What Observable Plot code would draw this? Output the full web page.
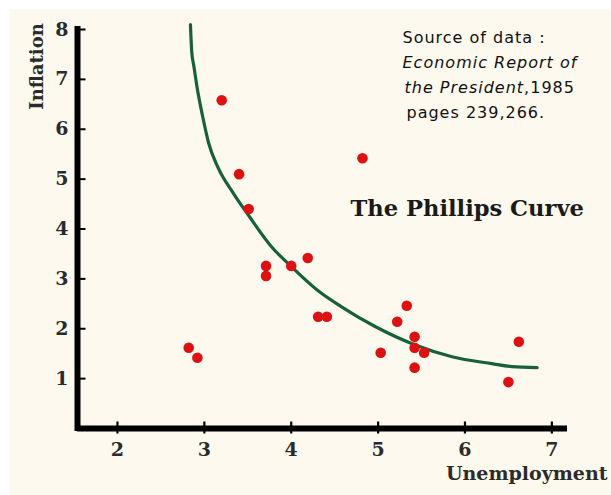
<!DOCTYPE html>
<html>
<head>
<meta charset="utf-8">
<script src="https://cdn.jsdelivr.net/npm/d3@7"></script>
<script src="https://cdn.jsdelivr.net/npm/@observablehq/plot@0.6"></script>
<style>
  html, body { margin: 0; padding: 0; background: #ffffff; }
  #chart svg { display: block; }
  #chart svg [font-family="DejaVu Sans"] { letter-spacing: 1px; }
</style>
</head>
<body>
<div id="chart"></div>
<script>
// Observations: unemployment rate (%) vs inflation rate (%)
const unemployment = [3.2, 3.4, 3.51, 4.82, 3.71, 3.71, 4.0, 4.19, 4.31, 4.41, 2.82, 2.92, 5.03, 5.22, 5.33, 5.42, 5.42, 5.53, 5.42, 6.5, 6.62];
const inflation    = [6.58, 5.1, 4.4, 5.42, 3.26, 3.06, 3.26, 3.42, 2.24, 2.24, 1.62, 1.42, 1.52, 2.14, 2.46, 1.84, 1.62, 1.52, 1.22, 0.93, 1.74];

// Fitted Phillips curve
const curveU = [2.84, 2.855, 2.88, 2.92, 2.98, 3.05, 3.15, 3.34, 3.51, 3.77, 4.0, 4.34, 4.57, 4.96, 5.42, 5.85, 6.31, 6.54, 6.83];
const curveI = [8.1, 7.55, 7.26, 6.8, 6.26, 5.72, 5.26, 4.7, 4.27, 3.65, 3.25, 2.72, 2.45, 2.05, 1.68, 1.44, 1.3, 1.24, 1.22];

const xTicks = [2, 3, 4, 5, 6, 7];
const yTicks = [1, 2, 3, 4, 5, 6, 7, 8];
const xDomain = [1.54, 7.18];
const yDomain = [0, 8];

const points = unemployment.map((u, i) => ({u, inf: inflation[i]}));
const curve = curveU.map((u, i) => ({u, inf: curveI[i]}));

const serif = "DejaVu Serif";
const labelColor = "#2b2b2b";

// tick shapes: inward tick for the y axis, crossing tick for the x axis
const tickRight = {draw(ctx) { ctx.moveTo(0, 0); ctx.lineTo(8, 0); }};
const tickCross = {draw(ctx) { ctx.moveTo(0, -7); ctx.lineTo(0, 5); }};

const chart = Plot.plot({
  width: 611,
  height: 495,
  marginLeft: 77,
  marginRight: 44,
  marginTop: 29,
  marginBottom: 67,
  style: {background: "transparent", overflow: "visible"},
  x: {domain: xDomain},
  y: {domain: yDomain},
  marks: [
    // tick labels
    Plot.axisY({ticks: yTicks, tickSize: 0, tickPadding: 9, tickFormat: d3.format("d"), fontSize: 19, fontFamily: serif, fontWeight: "bold", fill: labelColor, label: null}),
    Plot.axisX({ticks: xTicks, tickSize: 0, tickPadding: 14, tickFormat: d3.format("d"), fontSize: 19, fontFamily: serif, fontWeight: "bold", fill: labelColor, label: null}),
    // tick marks
    Plot.dot(yTicks, {x: xDomain[0], y: d => d, symbol: tickRight, fill: "none", stroke: "#000", strokeWidth: 2}),
    Plot.dot(xTicks, {x: d => d, y: yDomain[0], symbol: tickCross, fill: "none", stroke: "#000", strokeWidth: 2.2}),
    // axis lines
    Plot.ruleX([xDomain[0]], {stroke: "#000", strokeWidth: 6, strokeLinecap: "square"}),
    Plot.ruleY([yDomain[0]], {stroke: "#000", strokeWidth: 6}),
    // curve
    Plot.line(curve, {x: "u", y: "inf", stroke: "#17603a", strokeWidth: 3.2, curve: "monotone-x", clip: false}),
    // observations
    Plot.dot(points, {x: "u", y: "inf", r: 5.3, fill: "#dd1111", stroke: "none"}),
    // axis titles
    Plot.text(["Inflation"], {frameAnchor: "top-left", dx: -40, dy: 37, rotate: -90, textAnchor: "middle", lineAnchor: "middle", fontSize: 18, fontFamily: serif, fontWeight: "bold", fill: labelColor}),
    Plot.text(["Unemployment"], {frameAnchor: "bottom-right", dx: 40, dy: 45, textAnchor: "end", lineAnchor: "middle", fontSize: 19, fontFamily: serif, fontWeight: "bold", fill: labelColor}),
    // chart title
    Plot.text(["The Phillips Curve"], {frameAnchor: "top-left", dx: 273, dy: 179, textAnchor: "start", lineAnchor: "middle", fontSize: 22.6, fontFamily: serif, fontWeight: "bold", fill: "#1a1a1a"}),
    // source note
    Plot.text(["Source of data :"], {frameAnchor: "top-left", dx: 325, dy: 8, textAnchor: "start", lineAnchor: "middle", fontSize: 16, fontFamily: "DejaVu Sans", fill: "#111"}),
    Plot.text(["Economic Report of"], {frameAnchor: "top-left", dx: 325, dy: 33, textAnchor: "start", lineAnchor: "middle", fontSize: 16, fontFamily: "DejaVu Sans", fontStyle: "italic", fill: "#111"}),
    Plot.text(["the President"], {frameAnchor: "top-left", dx: 327, dy: 58, textAnchor: "start", lineAnchor: "middle", fontSize: 16, fontFamily: "DejaVu Sans", fontStyle: "italic", fill: "#111"}),
    Plot.text(["pages 239,266."], {frameAnchor: "top-left", dx: 329, dy: 83, textAnchor: "start", lineAnchor: "middle", fontSize: 16, fontFamily: "DejaVu Sans", fill: "#111"})
  ]
});

// the year follows the italic title in upright type on the same line
d3.select(chart).selectAll("text")
  .filter(function() { return this.textContent === "the President"; })
  .append("tspan")
  .attr("font-style", "normal")
  .style("font-style", "normal")
  .text(",1985");

// cream paper background behind everything
d3.select(chart).insert("rect", ":first-child")
  .attr("x", 10).attr("y", 9).attr("width", 601).attr("height", 486)
  .attr("fill", "#fdf9ee");

document.getElementById("chart").appendChild(chart);
</script>
</body>
</html>
